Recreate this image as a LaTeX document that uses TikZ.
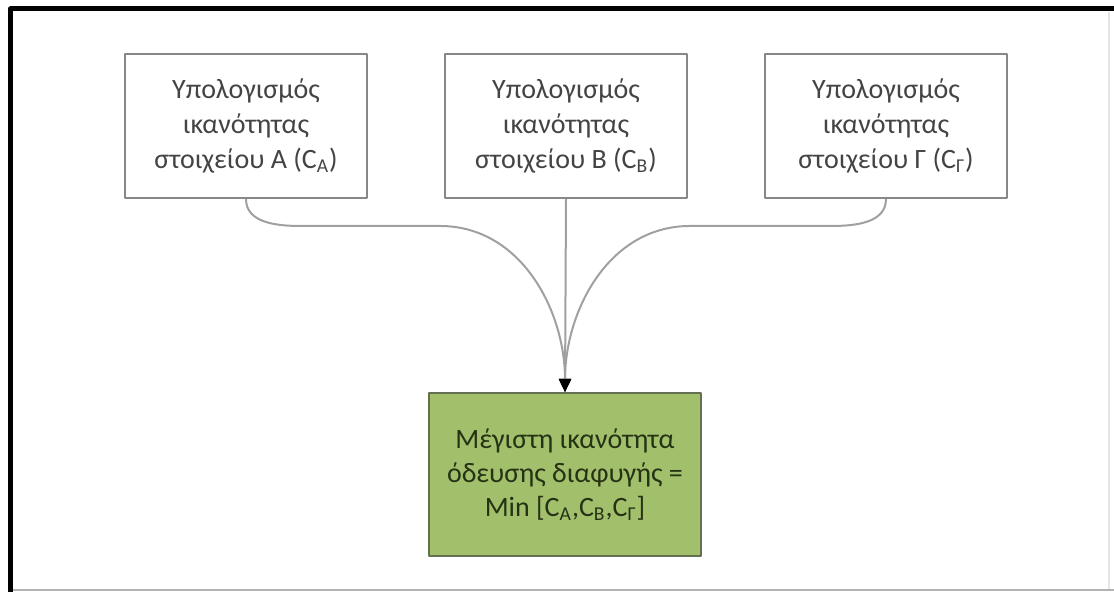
\documentclass[tikz,border=0pt]{standalone}
\usepackage{fontspec}
\setmainfont{Carlito}
\usepackage{tikz}
\usetikzlibrary{arrows.meta,positioning}

\begin{document}
\begin{tikzpicture}[x=0.5pt,y=0.5pt,line join=round,
  calcbox/.style={draw=boxc,line width=1.1pt,fill=white,text=txtc,align=center,
    minimum width=121pt,minimum height=72pt,inner sep=0pt,
    font=\fontsize{14}{17.5}\selectfont},
  resultbox/.style={draw=resc,line width=1.1pt,fill=resfill,text=restxt,align=center,
    minimum width=136pt,minimum height=81.5pt,inner sep=0pt,
    font=\fontsize{14}{17}\selectfont},
  conn/.style={draw=connc,line width=1pt,-{Triangle[width=6pt,length=6.5pt,color=black]}}]
\definecolor{boxc}{RGB}{135,135,135}\definecolor{txtc}{RGB}{68,68,68}
\definecolor{connc}{RGB}{160,160,160}
\definecolor{resfill}{RGB}{162,191,108}\definecolor{resc}{RGB}{100,112,80}
\definecolor{restxt}{RGB}{38,50,20}
\useasboundingbox (0,0) rectangle (1114,592);
% frame of the screenshot
\draw[black,line width=2.5pt] (10.5,0) -- (10.5,583) -- (1114,583);
\draw[black!30,line width=1pt] (13,1.5) -- (1114,1.5);
\draw[black!10,line width=0.8pt] (1109,3) -- (1109,580);
% the three capacity computations
\node[calcbox] (A) at (246,466) {Υπολογισμός\\ικανότητας\\στοιχείου Α (C\textsubscript{Α})};
\node[calcbox] (B) at (566,466) {Υπολογισμός\\ικανότητας\\στοιχείου Β (C\textsubscript{Β})};
\node[calcbox] (G) at (886,466) {Υπολογισμός\\ικανότητας\\στοιχείου Γ (C\textsubscript{Γ})};
% result
\node[resultbox] (maxcap) at (565,117.5) {Μέγιστη ικανότητα\\όδευσης διαφυγής =\\Min [C\textsubscript{Α},C\textsubscript{Β},C\textsubscript{Γ}]};
% connectors
\draw[conn] (A.south) to[out=-90,in=180] (301,366) -- (440,366) to[out=0,in=90] (maxcap.north);
\draw[conn] (G.south) to[out=-90,in=0] (831,366) -- (690,366) to[out=180,in=90] (maxcap.north);
\draw[conn] (B.south) -- (maxcap.north);
\end{tikzpicture}
\end{document}
